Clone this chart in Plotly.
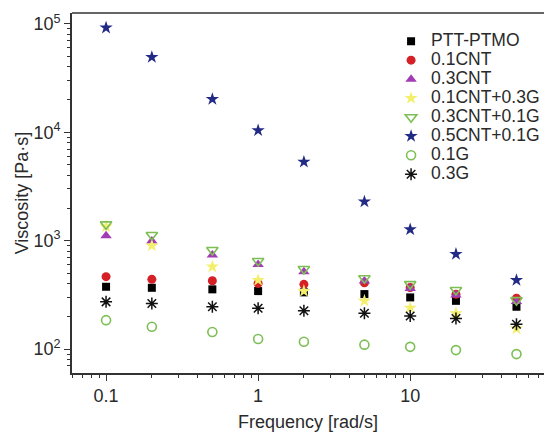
import plotly.graph_objects as go

freq = [0.1, 0.2, 0.5, 1, 2, 5, 10, 20, 50]

ptt_ptmo = [376, 368, 356, 343, 334, 322, 300, 279, 246]
cnt01 = [466, 440, 427, 404, 396, 410, 370, 320, 295]
cnt03 = [1110, 993, 738, 605, 517, 425, 363, 315, 275]
cnt01_g03 = [1350, 900, 575, 433, 343, 279, 240, 214, 155]
cnt03_g01 = [1416, 1130, 820, 650, 548, 450, 398, 351, 283]
cnt05_g01 = [92000, 49300, 20200, 10400, 5330, 2290, 1270, 753, 433]
g01 = [185, 161, 144, 124, 117, 110, 105, 98, 90]
g03 = [273, 264, 246, 238, 226, 214, 202, 192, 170]

series = [
    ("PTT-PTMO", ptt_ptmo, dict(symbol="square", size=8, color="#000000")),
    ("0.1CNT", cnt01, dict(symbol="circle", size=9, color="#d42026")),
    ("0.3CNT", cnt03, dict(symbol="triangle-up", size=10, color="#a23cb4")),
    ("0.1CNT+0.3G", cnt01_g03, dict(symbol="star", size=10, color="#f4ef6a")),
    ("0.3CNT+0.1G", cnt03_g01, dict(symbol="triangle-down-open", size=10, color="#7dbf55",
                                   line=dict(width=1.6, color="#7dbf55"))),
    ("0.5CNT+0.1G", cnt05_g01, dict(symbol="star", size=10, color="#222a85")),
    ("0.1G", g01, dict(symbol="circle-open", size=9, color="#7dbf55",
                       line=dict(width=1.6, color="#7dbf55"))),
    ("0.3G", g03, dict(symbol="asterisk-open", size=10, color="#111111",
                       line=dict(width=1.5, color="#111111"))),
]

fig = go.Figure()
for name, vals, mk in series:
    fig.add_trace(go.Scatter(
        x=freq, y=vals, mode="markers", name=f'<span style="font-size:17.5px">{name}</span>',
        marker=mk,
    ))

axis_color = "#333333"
font_fam = "Arial, Liberation Sans, sans-serif"

x_minor = [m * 10 ** k for k in range(-2, 2) for m in range(2, 10)]
y_minor = [m * 10 ** k for k in range(1, 5) for m in range(2, 10)]

fig.update_layout(
    width=544, height=432,
    margin=dict(l=72, r=0, t=13, b=59, autoexpand=False),
    paper_bgcolor="white", plot_bgcolor="white",
    font=dict(family=font_fam, size=18, color="#2a2a2a"),
    showlegend=True,
    legend=dict(x=0.676, y=0.962, xanchor="left", yanchor="top",
                font=dict(size=12, family=font_fam, color="#2a2a2a"),
                bgcolor="rgba(0,0,0,0)", itemwidth=30),
    xaxis=dict(
        type="log", range=[-1.224, 1.88],
        tickmode="array", tickvals=[0.1, 1, 10], ticktext=["0.1", "1", "10"],
        ticks="outside", ticklen=6, tickwidth=1.3, tickcolor=axis_color,
        showline=True, linecolor=axis_color, linewidth=1.6,
        showgrid=False, zeroline=False,
        minor=dict(tickmode="array", tickvals=x_minor, ticks="outside",
                   ticklen=3.5, tickwidth=1.2, tickcolor=axis_color, showgrid=False),
        title=dict(text="Frequency [rad/s]", font=dict(size=18), standoff=10),
        tickfont=dict(size=18),
    ),
    yaxis=dict(
        type="log", range=[1.78, 5.10],
        tickmode="array", tickvals=[100, 1000, 10000, 100000],
        ticktext=["10<sup>2</sup>", "10<sup>3</sup>", "10<sup>4</sup>", "10<sup>5</sup>"],
        ticks="outside", ticklen=6, tickwidth=1.3, tickcolor=axis_color,
        showline=True, linecolor=axis_color, linewidth=1.6,
        showgrid=False, zeroline=False,
        minor=dict(tickmode="array", tickvals=y_minor, ticks="outside",
                   ticklen=3.5, tickwidth=1.2, tickcolor=axis_color, showgrid=False),
        title=dict(text="Viscosity [Pa·s]", font=dict(size=18), standoff=0),
        tickfont=dict(size=18),
    ),
    shapes=[dict(type="line", xref="paper", yref="paper", x0=0, x1=1, y0=1, y1=1,
                 line=dict(color=axis_color, width=1.6))],
)

fig.write_html("out.html")
